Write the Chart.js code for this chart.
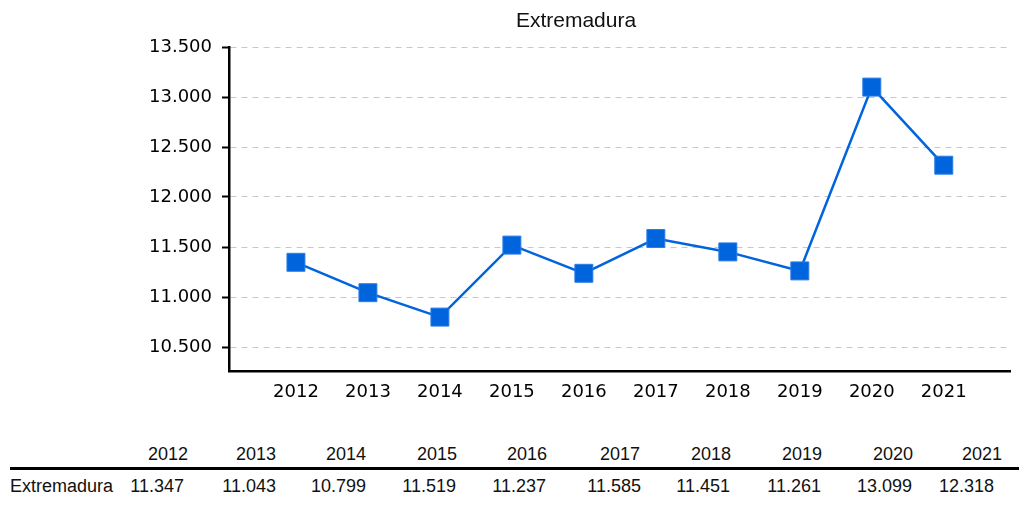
<!DOCTYPE html>
<html>
<head>
<meta charset="utf-8">
<script src="https://cdn.jsdelivr.net/npm/chart.js@4"></script>
<style>
    body { margin: 0; background: #fff; }
    #wrap { position: relative; width: 1019px; height: 508px; overflow: hidden; }
    #line-chart { position: absolute; left: 0; top: 0; }
    .txt { position: absolute; font-family: "Liberation Sans", Arial, sans-serif; font-size: 18px; line-height: 20px; color: #111; white-space: nowrap; }
    #title { font-size: 21px; line-height: 24px; left: 576px; top: 8px; transform: translateX(-50%); }
    #rule { position: absolute; left: 10px; top: 467px; right: 0; height: 3px; background: #000; }
</style>
</head>
<body>
<div id="wrap">
    <canvas id="line-chart" width="1019" height="420"></canvas>
    <div id="title" class="txt">Extremadura</div>
    <div id="rule"></div>
</div>
<script>
const seriesName = "Extremadura";
const years = [2012, 2013, 2014, 2015, 2016, 2017, 2018, 2019, 2020, 2021];
const values = [11347, 11043, 10799, 11519, 11237, 11585, 11451, 11261, 13099, 12318];
const yTicks = [10500, 11000, 11500, 12000, 12500, 13000, 13500];

// table column right edges (px)
const headRight = [188, 276, 366, 457, 547, 640, 731, 822, 913, 1002];
const valueRight = [184, 276, 366, 456, 546, 641, 730, 821, 912, 994];

const fmt = v => v.toLocaleString("de-DE");

// table below the chart
const wrap = document.getElementById("wrap");
function addCell(text, right, top) {
    const el = document.createElement("div");
    el.className = "txt";
    el.textContent = text;
    el.style.right = (1019 - right) + "px";
    el.style.top = top + "px";
    wrap.appendChild(el);
}
years.forEach((y, i) => addCell(String(y), headRight[i], 444));
values.forEach((v, i) => addCell(fmt(v), valueRight[i], 476));
const nameCell = document.createElement("div");
nameCell.className = "txt";
nameCell.textContent = seriesName;
nameCell.style.left = "10px";
nameCell.style.top = "476px";
wrap.appendChild(nameCell);

const tickFont = { family: "'DejaVu Sans', sans-serif", size: 18 };

new Chart(document.getElementById("line-chart"), {
    type: "line",
    data: {
        datasets: [{
            label: seriesName,
            data: years.map((y, i) => ({ x: y, y: values[i] })),
            borderColor: "#0064dc",
            backgroundColor: "#0064dc",
            borderWidth: 2.5,
            pointStyle: "rect",
            pointRadius: 12.7,
            pointHoverRadius: 12.7,
            pointBorderWidth: 1,
            pointBorderColor: "#2a7de6",
            tension: 0,
            clip: false
        }]
    },
    options: {
        responsive: false,
        animation: false,
        layout: { autoPadding: false, padding: { top: 47, right: 9, left: 0, bottom: 0 } },
        plugins: {
            legend: { display: false },
            title: { display: false },
            tooltip: { enabled: false }
        },
        scales: {
            x: {
                type: "linear",
                min: 2011.07,
                max: 2021.92,
                afterBuildTicks: scale => { scale.ticks = years.map(v => ({ value: v })); },
                afterFit: scale => {
                    scale.height = 49;
                    scale.paddingLeft = 0;
                    scale.paddingRight = 0;
                },
                grid: { display: false, drawTicks: false },
                border: { color: "#000", width: 2.5 },
                ticks: {
                    color: "#000",
                    font: tickFont,
                    padding: 11,
                    maxRotation: 0,
                    callback: v => String(v)
                }
            },
            y: {
                min: 10260,
                max: 13500,
                afterBuildTicks: scale => { scale.ticks = yTicks.map(v => ({ value: v })); },
                afterFit: scale => { scale.width = 229; },
                grid: {
                    color: "#c8c8c8",
                    lineWidth: 1,
                    drawTicks: true,
                    tickLength: 7,
                    tickColor: "#000",
                    tickWidth: 2
                },
                border: { color: "#000", width: 2.5, dash: [6, 5] },
                ticks: {
                    color: "#000",
                    font: tickFont,
                    padding: 10,
                    callback: v => fmt(v)
                }
            }
        }
    }
});
</script>
</body>
</html>
